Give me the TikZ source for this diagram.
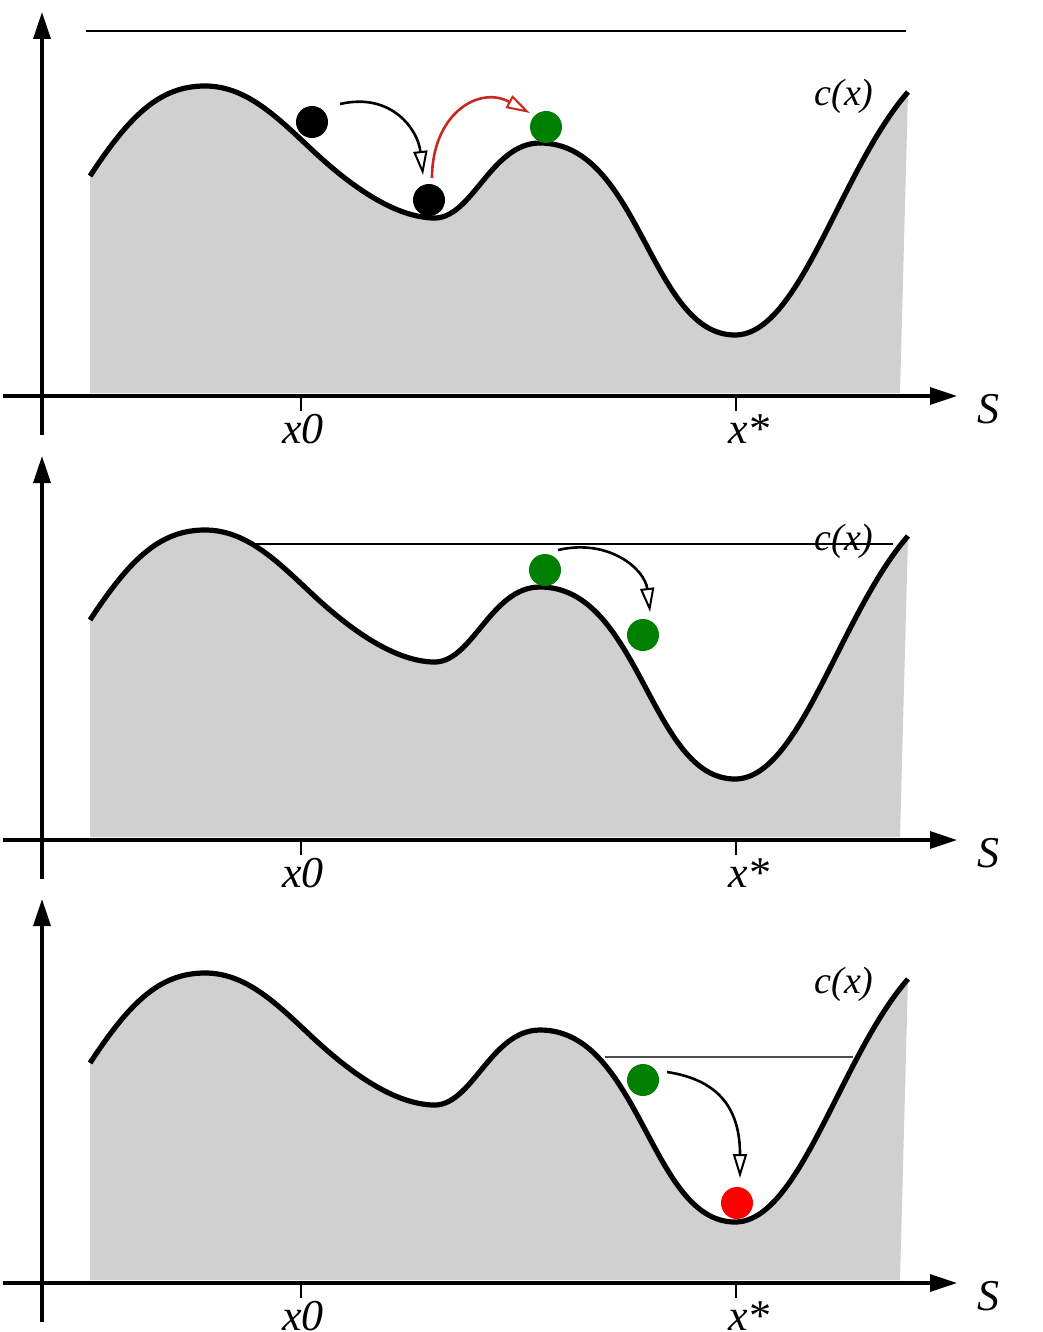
\documentclass[tikz,border=0pt]{standalone}
\usepackage{fontspec}
\setmainfont{Liberation Serif}
\usetikzlibrary{arrows.meta}
\definecolor{landgray}{RGB}{208,208,208}
\definecolor{ballgreen}{RGB}{0,128,0}
\definecolor{arrowred}{RGB}{200,40,30}
\tikzset{
  axisline/.style={line width=3.2pt, -{Triangle[length=27pt,width=17pt]}},
  land/.style={line width=5.2pt},
  ball/.style={circle, inner sep=0pt, minimum size=32pt},
  move/.style={line width=2.6pt, -{Triangle[length=24pt,width=14pt,line width=2pt,fill=white]}},
  level/.style={line width=1.3pt},
  lbl/.style={font=\fontsize{44}{48}\selectfont\itshape, inner sep=0pt, anchor=base},
  clbl/.style={font=\fontsize{38}{42}\selectfont\itshape, inner sep=0pt, anchor=base},
  tickline/.style={line width=2.2pt}
}
\newcommand\landcurve{(90,176) .. controls (130,115) and (160,86) .. (205,86) .. controls (245,86) and (275,115) .. (310,148) .. controls (345,181) and (390,216) .. (432,218) .. controls (472,221) and (490,143) .. (540,143) .. controls (640,143) and (650,335) .. (735,335) .. controls (800,335) and (840,170) .. (908,92)}
\newcommand\drawpanel[1]{%
  \fill[landgray] \landcurve -- (900,393) -- (90,393) -- cycle;
  \draw[land] \landcurve;
  \coordinate (#1ytop) at (42,12);
  \coordinate (#1ybot) at (42,435);
  \coordinate (#1xl) at (3,396);
  \coordinate (#1xr) at (957,396);
  \draw[axisline] (#1ybot) -- (#1ytop);
  \draw[axisline] (#1xl) -- (#1xr);
  \coordinate (#1ta) at (301,396); \coordinate (#1tab) at (301,411);
  \coordinate (#1tb) at (736,396); \coordinate (#1tbb) at (736,411);
  \draw[tickline] (#1ta) -- (#1tab);
  \draw[tickline] (#1tb) -- (#1tbb);
  \node[lbl] (#1x0) at (303,443) {x0};
  \node[lbl] (#1xs) at (749,443) {x*};
  \node[lbl] (#1S) at (988,423) {S};
  \node[clbl] (#1c) at (844,106) {c(x)};
}
\begin{document}
\begin{tikzpicture}[x=1pt,y=-1pt]
\useasboundingbox (0,0) rectangle (1043,1332);
% panel 1
\begin{scope}
  \drawpanel{p}
  \coordinate (pla) at (86,31); \coordinate (plb) at (906,31);
  \draw[level] (pla) -- (plb);
  \coordinate (pa1s) at (340,104); \coordinate (pa1e) at (423,175);
  \draw[move] (pa1s) .. controls (392,92) and (418,130) .. (pa1e);
  \coordinate (pa2s) at (432,178); \coordinate (pa2e) at (530,113);
  \draw[move, draw=arrowred] (pa2s) .. controls (432,115) and (478,85) .. (pa2e);
  \node[ball, fill=black] (pb1) at (312,122) {};
  \node[ball, fill=black] (pb2) at (429,200) {};
  \node[ball, fill=ballgreen] (pb3) at (546,127) {};
\end{scope}
% panel 2
\begin{scope}[shift={(0,444)}]
  \drawpanel{q}
  \coordinate (qla) at (250,100); \coordinate (qlb) at (893,100);
  \draw[level] (qla) -- (qlb);
  \coordinate (qas) at (558,106); \coordinate (qae) at (650,168);
  \draw[move] (qas) .. controls (610,94) and (645,126) .. (qae);
  \node[ball, fill=ballgreen] (qb1) at (545,126) {};
  \node[ball, fill=ballgreen] (qb2) at (643,191) {};
\end{scope}
% panel 3
\begin{scope}[shift={(0,887)}]
  \drawpanel{r}
  \coordinate (rla) at (605,170); \coordinate (rlb) at (853,170);
  \draw[level, draw=black!70] (rla) -- (rlb);
  \coordinate (ras) at (667,185); \coordinate (rae) at (740,291);
  \draw[move] (ras) .. controls (720,193) and (740,223) .. (rae);
  \node[ball, fill=ballgreen] (rb1) at (643,193) {};
  \node[ball, fill=red] (rb2) at (737,316) {};
\end{scope}
\end{tikzpicture}
\end{document}
